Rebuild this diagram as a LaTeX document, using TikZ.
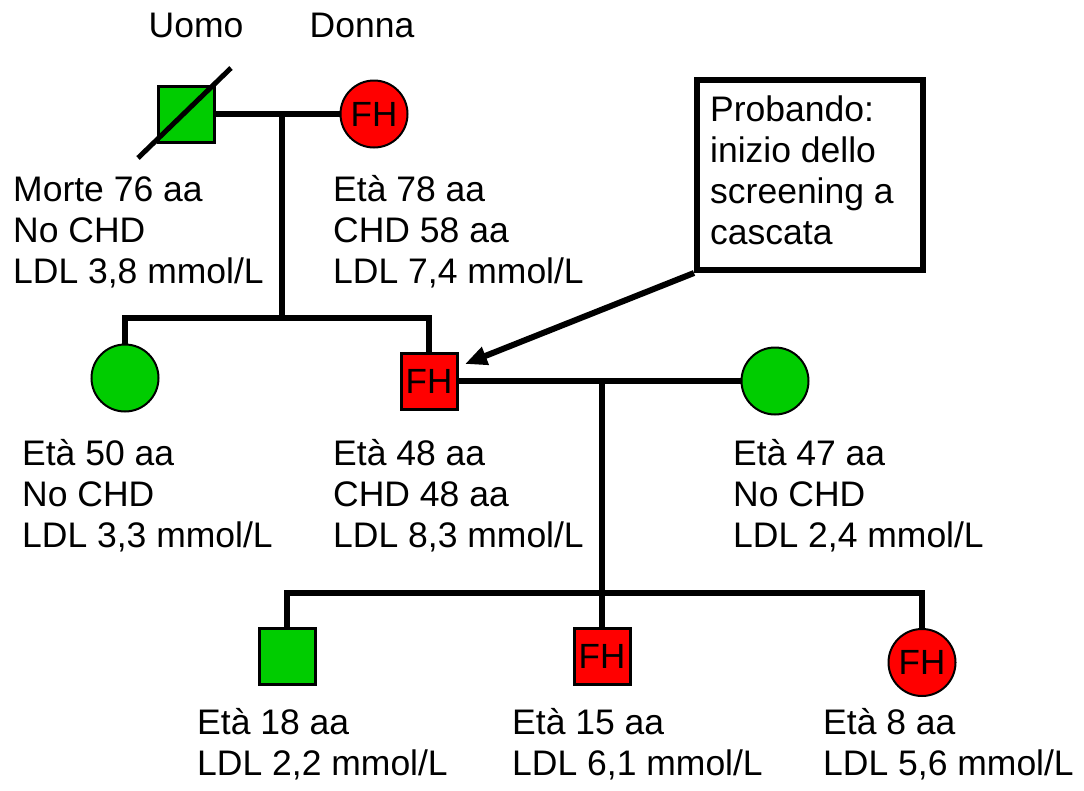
\documentclass[tikz,border=0pt]{standalone}
\usepackage{fontspec}
\setmainfont{Liberation Sans}
\usetikzlibrary{arrows.meta,backgrounds}
\definecolor{fhgreen}{RGB}{0,204,0}
\definecolor{fhred}{RGB}{255,0,0}
\newcommand\infofont{\fontsize{35.5}{41}\selectfont}
\newcommand\fhfont{\fontsize{35}{40}\selectfont}
% stacked lines whose baseline is the first line
\newcommand\lines[1]{\begin{tabular}[t]{@{}l@{}}#1\end{tabular}}

\begin{document}
\begin{tikzpicture}[x=1pt,y=-1pt,
  link/.style={line width=6pt},
  male/.style={rectangle,draw,line width=3pt,minimum size=56pt,inner sep=0pt},
  female/.style={circle,draw,line width=2pt,minimum size=67pt,inner sep=0pt},
  aff/.style={fill=fhred,font=\fhfont},
  unaff/.style={fill=fhgreen},
  info/.style={anchor=base west,inner sep=0pt,font=\infofont},
  head/.style={anchor=base,inner sep=0pt,font=\infofont},
  callout/.style={rectangle,draw,line width=6pt,minimum width=226pt,minimum height=190pt,inner sep=0pt}]
\useasboundingbox (0,0) rectangle (1084,790);

% column headings
\node[head] (hman) at (196,37) {Uomo};
\node[head] (hwoman) at (362,37) {Donna};

% generation I
\node[male,unaff] (gf) at (186,114) {};
\node[female,aff] (gm) at (374,114) {FH};
\draw[line width=5pt] (gf.center) ++(-48,44) -- ++(93,-90);

% generation II
\node[female,unaff] (aunt) at (125,378) {};
\node[male,aff] (pr) at (429,381) {FH};
\node[female,unaff] (wife) at (775,381) {};

% generation III
\node[male,unaff] (son1) at (287,656.5) {};
\node[male,aff] (son2) at (602,656.5) {FH};
\node[female,aff] (dau) at (922,662.5) {FH};

% proband call-out
\node[callout] (pbox) at (810,175) {};
\node[info] (pbtext) at (710,121) {\lines{Probando:\\inizio dello\\screening a\\cascata}};
\coordinate (tip) at (465,364);
\draw[link,-{Triangle[length=22pt,width=18pt]}] (pbox.south west) -- (tip);

% clinical data
\node[info] (tgf) at (13,201) {\lines{Morte 76 aa\\No CHD\\LDL 3,8 mmol/L}};
\node[info] (tgm) at (333,201) {\lines{Età 78 aa\\CHD 58 aa\\LDL 7,4 mmol/L}};
\node[info] (taunt) at (22,465) {\lines{Età 50 aa\\No CHD\\LDL 3,3 mmol/L}};
\node[info] (tpr) at (333,465) {\lines{Età 48 aa\\CHD 48 aa\\LDL 8,3 mmol/L}};
\node[info] (twife) at (733,465) {\lines{Età 47 aa\\No CHD\\LDL 2,4 mmol/L}};
\node[info] (tson1) at (197,734) {\lines{Età 18 aa\\LDL 2,2 mmol/L}};
\node[info] (tson2) at (512,734) {\lines{Età 15 aa\\LDL 6,1 mmol/L}};
\node[info] (tdau) at (823,734) {\lines{Età 8 aa\\LDL 5,6 mmol/L}};

% pedigree lines
\coordinate (c1) at (282,114);
\coordinate (sib1) at (282,318);
\coordinate (c2) at (602,381);
\coordinate (sib2) at (602,593);
\begin{pgfonlayer}{background}
  \draw[link] (gf.east) -- (gm.west);
  \draw[link] (c1) -- (sib1);
  \draw[link] (aunt.north) |- (sib1) -| (pr.north);
  \draw[link] (pr.east) -- (wife.west);
  \draw[link] (c2) -- (sib2);
  \draw[link] (son1.north) |- (sib2) -| (dau.north);
  \draw[link] (sib2) -- (son2.north);
\end{pgfonlayer}
\end{tikzpicture}
\end{document}
